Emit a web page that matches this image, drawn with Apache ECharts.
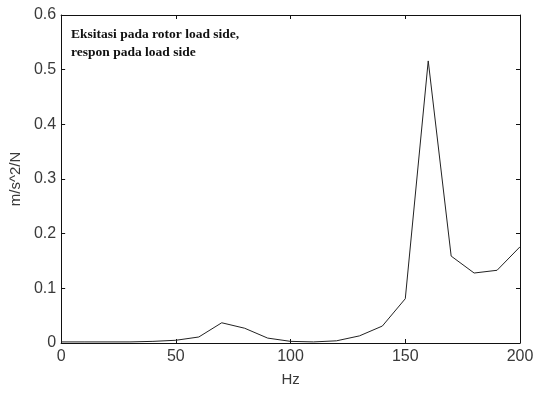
<!DOCTYPE html>
<html>
<head>
<meta charset="utf-8">
<script src="https://cdn.jsdelivr.net/npm/echarts@6/dist/echarts.min.js"></script>
<style>
html,body{margin:0;padding:0;background:#fff;}
#c{width:539px;height:393px;}
</style>
</head>
<body>
<div id="c"></div>
<script>
// Data
var hz = [0, 10, 20, 30, 40, 50, 60, 70, 80, 90, 100, 110, 120, 130, 140, 150, 160, 170, 180, 190, 200];
var response = [0.002, 0.002, 0.002, 0.002, 0.003, 0.005, 0.011, 0.037, 0.027, 0.009, 0.003, 0.002, 0.004, 0.013, 0.031, 0.081, 0.516, 0.159, 0.128, 0.133, 0.176];
var xTicks = [0, 50, 100, 150, 200];
var yTicks = [0, 0.1, 0.2, 0.3, 0.4, 0.5, 0.6];
var annotation = ['Eksitasi pada rotor load side,', 'respon pada load side'];
var xName = 'Hz';
var yName = 'm/s^2/N';

var chart = echarts.init(document.getElementById('c'));
var txtColor = '#3a3a3a';
var lineC = '#111';
function axisCommon() {
  return {
    axisLine: {show: true, onZero: false, lineStyle: {color: lineC, width: 1}},
    axisTick: {show: true, inside: true, length: 4, lineStyle: {color: lineC}},
    splitLine: {show: false}
  };
}
var seriesData = hz.map(function (h, i) { return [h, response[i]]; });
chart.setOption({
  animation: false,
  backgroundColor: '#fff',
  grid: {left: 56, right: 19, top: 15, bottom: 50, containLabel: false},
  xAxis: [
    Object.assign({
      type: 'value', min: xTicks[0], max: xTicks[xTicks.length - 1], interval: 50,
      position: 'bottom',
      name: xName, nameLocation: 'middle', nameGap: 29,
      nameTextStyle: {color: txtColor, fontSize: 15, fontFamily: 'Liberation Sans'},
      axisLabel: {color: txtColor, fontSize: 16, fontFamily: 'Liberation Sans', margin: 6}
    }, axisCommon()),
    Object.assign({
      type: 'value', min: xTicks[0], max: xTicks[xTicks.length - 1], interval: 50,
      position: 'top', axisLabel: {show: false}
    }, axisCommon())
  ],
  yAxis: [
    Object.assign({
      type: 'value', min: yTicks[0], max: yTicks[yTicks.length - 1], interval: 0.1,
      position: 'left',
      name: yName, nameLocation: 'middle', nameGap: 38, nameRotate: 90,
      nameTextStyle: {color: txtColor, fontSize: 15, fontFamily: 'Liberation Sans'},
      axisLabel: {color: txtColor, fontSize: 16, fontFamily: 'Liberation Sans', margin: 5,
        formatter: function (v) { return v === 0 ? '0' : v.toFixed(1); }}
    }, axisCommon()),
    Object.assign({
      type: 'value', min: yTicks[0], max: yTicks[yTicks.length - 1], interval: 0.1,
      position: 'right', axisLabel: {show: false}
    }, axisCommon())
  ],
  graphic: [
    {type: 'text', left: 71, top: 28, style: {text: annotation[0], fill: '#111',
      font: 'bold 13.5px "Liberation Serif", "DejaVu Serif", serif'}},
    {type: 'text', left: 71, top: 46, style: {text: annotation[1], fill: '#111',
      font: 'bold 13.5px "Liberation Serif", "DejaVu Serif", serif'}}
  ],
  series: [{
    type: 'line',
    data: seriesData,
    showSymbol: false,
    symbol: 'none',
    lineStyle: {color: '#222', width: 1},
    xAxisIndex: 0, yAxisIndex: 0
  }]
});
</script>
</body>
</html>
